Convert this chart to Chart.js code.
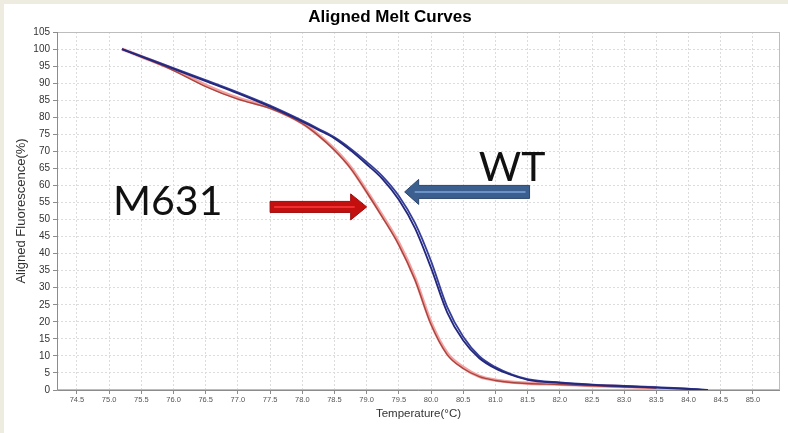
<!DOCTYPE html>
<html>
<head>
<meta charset="utf-8">
<script src="https://cdn.jsdelivr.net/npm/chart.js@4.4.1/dist/chart.umd.min.js"></script>
<style>
  html, body { margin: 0; padding: 0; background: #eeece1; }
  canvas { display: block; }
</style>
</head>
<body>
<canvas id="c" width="788" height="433"></canvas>
<script>
// ---- data ----
const temps = [75.2, 75.5, 76.0, 76.5, 77.0, 77.5, 78.0, 78.25, 78.5, 78.75, 79.0, 79.25, 79.5, 79.75, 80.0, 80.25, 80.5, 80.75, 81.0, 81.25, 81.5, 82.0, 82.5, 83.0, 83.5, 84.0, 84.3];
const wt1  = [100, 97.8, 94.2, 90.6, 87.0, 83.1, 78.7, 76.3, 73.8, 70.3, 66.2, 61.8, 55.8, 47.5, 35.8, 22.8, 14.5, 9.3, 6.3, 4.4, 3.0, 2.1, 1.5, 1.1, 0.7, 0.3, 0.0];
const wt2  = [100, 97.9, 94.4, 90.9, 87.3, 83.4, 79.0, 76.6, 74.1, 70.8, 66.9, 62.6, 56.9, 49.0, 37.8, 24.4, 15.6, 9.9, 6.7, 4.6, 3.2, 2.2, 1.6, 1.2, 0.8, 0.4, 0.0];
const m631a = [100, 97.8, 94.0, 89.4, 85.6, 82.8, 78.3, 74.8, 70.6, 65.3, 58.3, 50.9, 43.0, 32.8, 19.7, 10.8, 6.6, 4.0, 2.9, 2.3, 2.0, 1.7, 1.3, 1.0, 0.7, null, null];
const m631b = [100, 97.7, 93.7, 89.0, 85.3, 82.6, 78.1, 74.6, 70.3, 65.0, 58.0, 50.5, 42.5, 32.3, 19.2, 10.4, 6.3, 3.9, 2.8, 2.2, 1.9, 1.6, 1.2, 0.9, 0.6, null, null];
const xTicks = [74.5, 75.0, 75.5, 76.0, 76.5, 77.0, 77.5, 78.0, 78.5, 79.0, 79.5, 80.0, 80.5, 81.0, 81.5, 82.0, 82.5, 83.0, 83.5, 84.0, 84.5, 85.0];
const yTicks = [0, 5, 10, 15, 20, 25, 30, 35, 40, 45, 50, 55, 60, 65, 70, 75, 80, 85, 90, 95, 100, 105];
// annotation anchors (data units)
const labelM631 = { text: 'M631', x: 75.06, y: 51.3 };
const labelWT = { text: 'WT', x: 80.74, y: 61.4 };
const arrowRed = { from: 77.50, to: 79.00, y: 53.7 };
const arrowBlue = { from: 81.53, to: 79.59, y: 58.1 };

function pts(vals) {
  const out = [];
  temps.forEach((t, i) => { if (vals[i] !== null) out.push({ x: t, y: vals[i] }); });
  return out;
}

function drawArrow(ctx, x0, x1, y, shaftHalf, headHalf, headLen, fill, edge, stripe) {
  const dir = x1 > x0 ? 1 : -1;
  const xb = x1 - dir * headLen;
  ctx.save();
  ctx.beginPath();
  ctx.moveTo(x0, y - shaftHalf);
  ctx.lineTo(xb, y - shaftHalf);
  ctx.lineTo(xb, y - headHalf);
  ctx.lineTo(x1, y);
  ctx.lineTo(xb, y + headHalf);
  ctx.lineTo(xb, y + shaftHalf);
  ctx.lineTo(x0, y + shaftHalf);
  ctx.closePath();
  ctx.fillStyle = fill;
  ctx.fill();
  ctx.lineWidth = 1;
  ctx.strokeStyle = edge;
  ctx.stroke();
  ctx.beginPath();
  ctx.moveTo(x0 + dir * 4, y);
  ctx.lineTo(xb + dir * 4, y);
  ctx.lineWidth = 2;
  ctx.strokeStyle = stripe;
  ctx.stroke();
  ctx.restore();
}

const decor = {
  id: 'decor',
  beforeDraw(chart) {
    const ctx = chart.ctx;
    ctx.save();
    ctx.fillStyle = '#eeece1';
    ctx.fillRect(0, 0, chart.width, chart.height);
    ctx.fillStyle = '#ffffff';
    ctx.fillRect(4, 4, chart.width - 4, chart.height - 4);
    ctx.restore();
  },
  beforeDatasetsDraw(chart) {
    const { ctx, chartArea: a } = chart;
    ctx.save();
    ctx.strokeStyle = '#bdbdbd';
    ctx.lineWidth = 1;
    ctx.strokeRect(a.left + 0.5, a.top + 0.5, a.right - a.left - 1, a.bottom - a.top - 1);
    ctx.strokeStyle = '#8c8c8c';
    ctx.beginPath();
    ctx.moveTo(a.left + 0.5, a.top);
    ctx.lineTo(a.left + 0.5, a.bottom + 0.5);
    ctx.lineTo(a.right, a.bottom + 0.5);
    ctx.stroke();
    ctx.restore();
  },
  afterDraw(chart) {
    const ctx = chart.ctx;
    const xs = chart.scales.x, ys = chart.scales.y;
    drawArrow(ctx, xs.getPixelForValue(arrowRed.from), xs.getPixelForValue(arrowRed.to), ys.getPixelForValue(arrowRed.y),
      5.5, 13, 16, '#c40f0f', '#9e0a0a', '#f03030');
    drawArrow(ctx, xs.getPixelForValue(arrowBlue.from), xs.getPixelForValue(arrowBlue.to), ys.getPixelForValue(arrowBlue.y),
      6.5, 12.5, 14, '#3b5f8e', '#2b4670', '#6b93c6');
    ctx.save();
    ctx.fillStyle = '#111111';
    ctx.font = '41px Lato, "Noto Sans", sans-serif';
    ctx.textBaseline = 'alphabetic';
    ctx.textAlign = 'left';
    ctx.fillText(labelM631.text, xs.getPixelForValue(labelM631.x), ys.getPixelForValue(labelM631.y));
    ctx.fillText(labelWT.text, xs.getPixelForValue(labelWT.x), ys.getPixelForValue(labelWT.y));
    ctx.restore();
  }
};

const common = { pointRadius: 0, fill: false, cubicInterpolationMode: 'monotone', spanGaps: false };

// dataset 0 is painted on top
new Chart(document.getElementById('c'), {
  type: 'line',
  data: {
    datasets: [
      Object.assign({ label: 'WT 1', data: pts(wt1), borderColor: '#24287c', borderWidth: 1.8 }, common),
      Object.assign({ label: 'WT 2', data: pts(wt2), borderColor: '#353f9a', borderWidth: 1.8 }, common),
      Object.assign({ label: 'M631 1', data: pts(m631b), borderColor: '#a8453e', borderWidth: 1.4 }, common),
      Object.assign({ label: 'M631 2', data: pts(m631a), borderColor: '#f3a0a0', borderWidth: 3.4 }, common)
    ]
  },
  options: {
    responsive: false,
    animation: false,
    devicePixelRatio: 1,
    layout: { padding: { left: 0, right: 8, top: 0, bottom: 0 } },
    plugins: {
      legend: { display: false },
      tooltip: { enabled: false },
      title: {
        display: true,
        text: 'Aligned Melt Curves',
        color: '#000000',
        font: { family: '"Liberation Sans", Arial, sans-serif', size: 17, weight: 'bold' },
        padding: { top: 7, bottom: 4.6 }
      }
    },
    scales: {
      x: {
        type: 'linear',
        min: 74.19,
        max: 85.42,
        afterBuildTicks: (s) => { s.ticks = xTicks.map(v => ({ value: v })); },
        afterFit: (s) => { s.height = 43; },
        ticks: {
          autoSkip: false, maxRotation: 0, minRotation: 0, padding: 1.5,
          color: '#555555',
          font: { family: '"Liberation Sans", Arial, sans-serif', size: 7.5 },
          callback: (v) => Number(v).toFixed(1)
        },
        grid: { color: '#dcdcdc', lineWidth: 1, tickLength: 4, tickColor: '#8c8c8c', tickBorderDash: [] },
        border: { display: false, dash: [2, 2] },
        title: {
          display: true, text: 'Temperature(°C)', color: '#333333',
          font: { family: '"Liberation Sans", Arial, sans-serif', size: 11.5 },
          padding: { top: 0, bottom: 12 }
        }
      },
      y: {
        type: 'linear',
        min: 0,
        max: 105,
        afterBuildTicks: (s) => { s.ticks = yTicks.map(v => ({ value: v })); },
        afterFit: (s) => { s.width = 57; },
        ticks: {
          autoSkip: false, padding: 3, color: '#333333',
          font: { family: '"Liberation Sans", Arial, sans-serif', size: 10 }
        },
        grid: { color: '#dcdcdc', lineWidth: 1, tickLength: 4, tickColor: '#8c8c8c', tickBorderDash: [] },
        border: { display: false, dash: [2, 2] },
        title: {
          display: true, text: 'Aligned Fluorescence(%)', color: '#333333',
          font: { family: '"Liberation Sans", Arial, sans-serif', size: 13 },
          padding: { top: 14, bottom: 0 }
        }
      }
    }
  },
  plugins: [decor]
});
</script>
</body>
</html>
